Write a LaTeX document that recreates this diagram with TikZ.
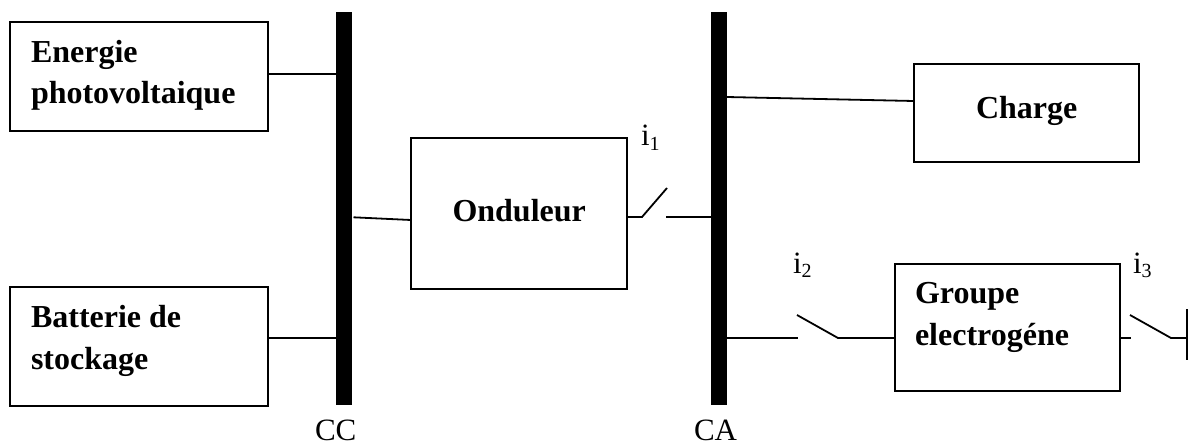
\documentclass[tikz,border=0pt]{standalone}
\usepackage{fontspec}
\setmainfont{Liberation Serif}
\usetikzlibrary{calc}
\tikzset{
  wire/.style={line width=1.8pt,line cap=butt,draw=black},
  boxn/.style={draw=black,line width=2pt,fill=white,inner sep=0pt,outer sep=0pt},
  busbar/.style={fill=black,draw=none,inner sep=0pt,outer sep=0pt,minimum width=16pt,minimum height=393pt},
  title/.style={inner sep=0pt,outer sep=0pt,anchor=base west,font=\fontsize{32}{38}\selectfont\bfseries},
  plain/.style={inner sep=0pt,outer sep=0pt,anchor=base west,font=\fontsize{31}{36}\selectfont},
  subs/.style={inner sep=0pt,outer sep=0pt,anchor=base west,font=\fontsize{20}{24}\selectfont}
}
\begin{document}
\begin{tikzpicture}[x=1pt,y=-1pt]
\useasboundingbox (0,0) rectangle (1194,445);
% bus bars
\node[busbar] (cc) at (344,208.5) {};
\node[busbar] (ca) at (719,208.5) {};
% boxes
\node[boxn,minimum width=258pt,minimum height=109pt] (pv) at (139,76.5) {};
\node[boxn,minimum width=258pt,minimum height=119pt] (bat) at (139,346.5) {};
\node[boxn,minimum width=216pt,minimum height=151pt] (ond) at (519,213.5) {};
\node[boxn,minimum width=225pt,minimum height=98pt] (chg) at (1026.5,113) {};
\node[boxn,minimum width=225pt,minimum height=127pt] (grp) at (1007.5,327.5) {};
% box texts
\node[title] (t1) at (31,62) {Energie};
\node[title] (t2) at (31,103) {photovoltaique};
\node[title] (t3) at (31,327) {Batterie de};
\node[title] (t4) at (31,369) {stockage};
\node[title] (t5) at (452.5,221) {Onduleur};
\node[title] (t6) at (976,118) {Charge};
\node[title] (t7) at (915,303) {Groupe};
\node[title] (t8) at (915,345) {electrogéne};
% bus labels
\node[plain] (lcc) at (315,440.5) {CC};
\node[plain] (lca) at (694,440.5) {CA};
% switch labels
\node[plain] (i1) at (641,145) {i};
\node[subs] (s1) at ([yshift=-5pt]i1.base east) {1};
\node[plain] (i2) at (793,273) {i};
\node[subs] (s2) at ([yshift=-4pt]i2.base east) {2};
\node[plain] (i3) at (1133,273) {i};
\node[subs] (s3) at ([yshift=-4pt]i3.base east) {3};
% switch points
\coordinate (a1) at (642,217);
\coordinate (b1) at (667,188);
\coordinate (c1) at (666,217);
\coordinate (a2) at (798,338);
\coordinate (b2) at (797,315);
\coordinate (c2) at (838,338);
\coordinate (a3) at (1131,338);
\coordinate (b3) at (1130,315);
\coordinate (c3) at (1171,338);
\coordinate (g) at (1187,338);
\coordinate (gt) at (1187,309);
\coordinate (gb) at (1187,360);
% connectors
\draw[wire] ([yshift=2.5pt]pv.east) -- ([yshift=2.5pt]pv.east -| cc.west);
\draw[wire] ([yshift=8.5pt]bat.east) -- ([yshift=8.5pt]bat.east -| cc.west);
\draw[wire] ([xshift=1.5pt]cc.east |- 0,217.3) -- (ond.west |- 0,220);
\draw[wire] (ond.east |- a1) -- (a1) -- (b1);
\draw[wire] (c1) -- (c1 -| ca.west);
\draw[wire] (ca.east |- 0,97) -- (chg.west |- 0,101);
\draw[wire] (ca.east |- a2) -- (a2);
\draw[wire] (b2) -- (c2) -- (c2 -| grp.west);
\draw[wire] (grp.east |- a3) -- (a3);
\draw[wire] (b3) -- (c3) -- (g);
\draw[wire] (gt) -- (gb);
\end{tikzpicture}
\end{document}
